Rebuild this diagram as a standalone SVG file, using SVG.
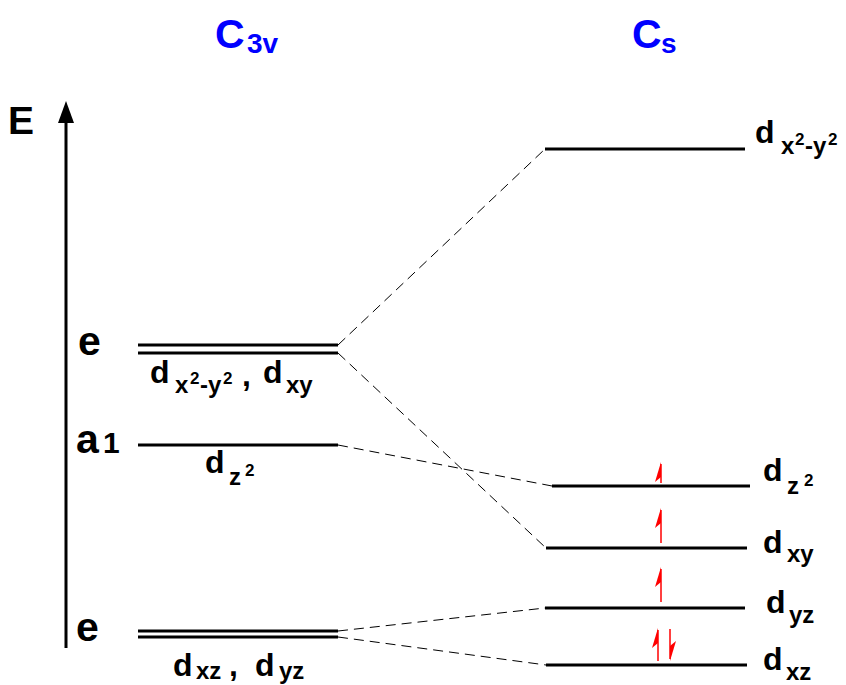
<svg xmlns="http://www.w3.org/2000/svg" width="846" height="685" viewBox="0 0 846 685">
<style>
text{font-family:"Liberation Sans",Arial,sans-serif;font-weight:bold;fill:#000}
.title{fill:#0000ff}
.lvl{stroke:#000;stroke-width:3;fill:none}
.dash{stroke:#000;stroke-width:1;stroke-dasharray:10 6;fill:none}
.e{stroke:#ff0000;stroke-width:1.5;fill:none}
.eh{fill:#ff0000;stroke:none}
.big{font-size:32px}
.sub{font-size:24px}
.sup{font-size:17px}
</style>
<rect width="846" height="685" fill="#fff"/>
<g id="titles">
<text class="title" x="215" y="48" font-size="41">C</text>
<text class="title" x="247" y="53" font-size="28">3v</text>
<text class="title" x="632" y="48" font-size="41">C</text>
<text class="title" x="661" y="53" font-size="28">s</text>
</g>
<g id="axis">
<line x1="66" y1="648" x2="66" y2="118" stroke="#000" stroke-width="3"/>
<polygon points="66,101 58,123 74,123" fill="#000"/>
<text x="8" y="134" font-size="39">E</text>
</g>
<g id="connectors">
<line class="dash" x1="338" y1="345" x2="545" y2="149"/>
<line class="dash" x1="338" y1="353" x2="546" y2="548"/>
<line class="dash" x1="338" y1="445" x2="552" y2="486"/>
<line class="dash" x1="338" y1="631" x2="545" y2="608"/>
<line class="dash" x1="338" y1="637" x2="546" y2="665"/>
</g>
<g id="c3v-e-upper">
<line class="lvl" x1="138" y1="345" x2="338" y2="345"/>
<line class="lvl" x1="138" y1="353" x2="338" y2="353"/>
<text x="78" y="355" font-size="41">e</text>
<text class="big" x="150" y="383">d</text>
<text class="sub" x="175" y="393">x</text>
<text class="sup" x="190" y="384">2</text>
<text class="sub" x="200" y="393">-y</text>
<text class="sup" x="223" y="384">2</text>
<text class="big" x="242" y="386">,</text>
<text class="big" x="263" y="383">d</text>
<text class="sub" x="286" y="393">xy</text>
</g>
<g id="c3v-a1">
<line class="lvl" x1="138" y1="445" x2="338" y2="445"/>
<text x="76" y="453" font-size="41">a</text>
<text x="103" y="453" font-size="30">1</text>
<text class="big" x="205" y="473">d</text>
<text class="sub" x="229" y="485">z</text>
<text class="sup" x="245" y="476">2</text>
</g>
<g id="c3v-e-lower">
<line class="lvl" x1="138" y1="631" x2="338" y2="631"/>
<line class="lvl" x1="138" y1="637" x2="338" y2="637"/>
<text x="76" y="641" font-size="41">e</text>
<text class="big" x="173" y="676">d</text>
<text class="sub" x="196" y="679" font-size="22">xz</text>
<text class="big" x="229" y="676">,</text>
<text class="big" x="255" y="676">d</text>
<text class="sub" x="279" y="679" font-size="22">yz</text>
</g>
<g id="cs-dx2y2">
<line class="lvl" x1="545" y1="149" x2="745" y2="149"/>
<text class="big" x="755" y="143">d</text>
<text class="sub" x="781" y="154">x</text>
<text class="sup" x="795" y="145">2</text>
<text class="sub" x="805" y="154">-y</text>
<text class="sup" x="828" y="145">2</text>
</g>
<g id="cs-dz2">
<line class="lvl" x1="552" y1="486" x2="750" y2="486"/>
<text class="big" x="763" y="481">d</text>
<text class="sub" x="787" y="494">z</text>
<text class="sup" x="804" y="486">2</text>
<line class="e" x1="661" y1="483" x2="661" y2="464"/>
<polygon class="eh" points="661,462 655,482 661,477"/>
</g>
<g id="cs-dxy">
<line class="lvl" x1="546" y1="548" x2="747" y2="548"/>
<text class="big" x="763" y="553">d</text>
<text class="sub" x="787" y="562">xy</text>
<line class="e" x1="661" y1="543" x2="661" y2="510"/>
<polygon class="eh" points="661,508 655,528 661,523"/>
</g>
<g id="cs-dyz">
<line class="lvl" x1="545" y1="608" x2="745" y2="608"/>
<text class="big" x="766" y="613">d</text>
<text class="sub" x="789" y="623">yz</text>
<line class="e" x1="661" y1="602" x2="661" y2="569"/>
<polygon class="eh" points="661,567 655,587 661,582"/>
</g>
<g id="cs-dxz">
<line class="lvl" x1="546" y1="665" x2="747" y2="665"/>
<text class="big" x="763" y="670">d</text>
<text class="sub" x="786" y="680">xz</text>
<line class="e" x1="658" y1="661" x2="658" y2="630"/>
<polygon class="eh" points="658,628 652,648 658,643"/>
<line class="e" x1="670" y1="629" x2="670" y2="659"/>
<polygon class="eh" points="670,661 676,641 670,646"/>
</g>
</svg>
